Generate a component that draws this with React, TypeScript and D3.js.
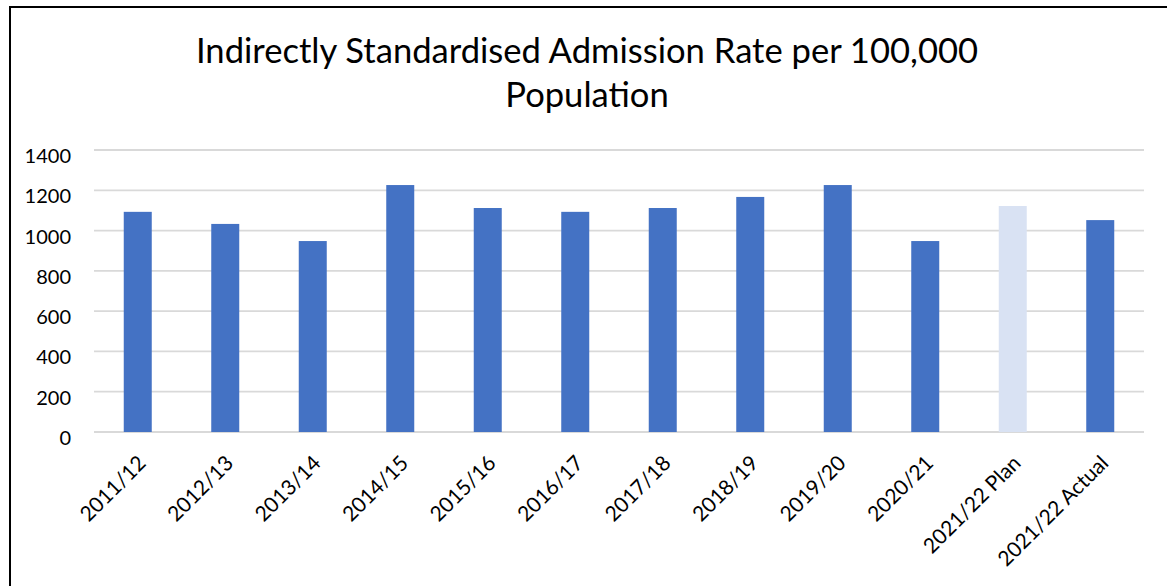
import React from "react";
import * as d3 from "d3";

const categories = [
  "2011/12", "2012/13", "2013/14", "2014/15", "2015/16", "2016/17",
  "2017/18", "2018/19", "2019/20", "2020/21", "2021/22 Plan", "2021/22 Actual",
];
const values = [1093, 1033, 948, 1226, 1112, 1093, 1112, 1167, 1226, 948, 1122, 1052];
const highlight = [false, false, false, false, false, false, false, false, false, false, true, false];
const yTicks = [0, 200, 400, 600, 800, 1000, 1200, 1400];
const titleLines = ["Indirectly Standardised Admission Rate per 100,000", "Population"];

const W = 1167;
const H = 586;
const FONT = "Lato, 'Open Sans', sans-serif";

export default function App() {
  const x = d3.scaleBand<string>().domain(categories).range([94, 1144]).paddingInner(0.68).paddingOuter(0.34);
  const y = d3.scaleLinear().domain([0, 1400]).range([432, 150]);

  return (
    <svg width={W} height={H} style={{ position: "absolute", left: 0, top: 0, background: "#fff" }}>
      <rect x={0} y={0} width={W} height={H} fill="#fff" />
      <rect x={10} y={7} width={1300} height={700} fill="none" stroke="#000" strokeWidth={2} />
      {titleLines.map((t, i) => (
        <text key={t} x={587} y={63 + i * 44} textAnchor="middle" fontFamily={FONT} fontSize={34.6} fill="#000">
          {t}
        </text>
      ))}
      {yTicks.map((t) => (
        <g key={t}>
          <line x1={94} x2={1144} y1={y(t)} y2={y(t)} stroke="#d9d9d9" strokeWidth={1.8} />
          <text x={71} y={y(t) + 13} textAnchor="end" fontFamily={FONT} fontSize={20} fill="#000">
            {t}
          </text>
        </g>
      ))}
      {categories.map((c, i) => (
        <rect
          key={c}
          x={x(c)}
          y={y(values[i])}
          width={x.bandwidth()}
          height={y(0) - y(values[i])}
          fill={highlight[i] ? "#d9e2f3" : "#4472c4"}
        />
      ))}
      {categories.map((c) => {
        const cx = (x(c) as number) + x.bandwidth() / 2;
        return (
          <text
            key={c}
            transform={`translate(${cx - 1},${454}) rotate(-45)`}
            textAnchor="end"
            fontFamily={FONT}
            fontSize={21}
            fill="#000"
            dy="0.7em"
          >
            {c}
          </text>
        );
      })}
    </svg>
  );
}
